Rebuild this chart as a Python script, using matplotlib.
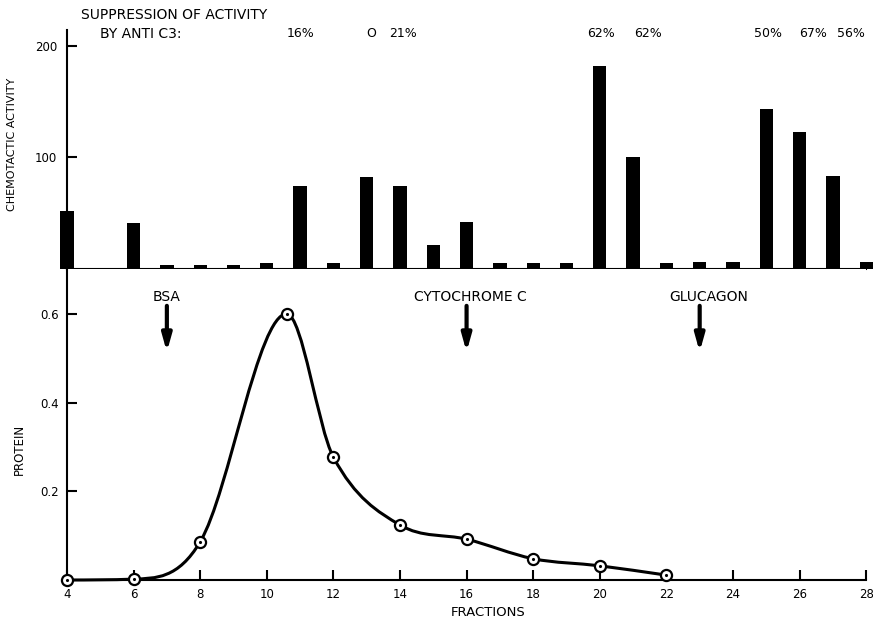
import matplotlib
matplotlib.use("Agg")
import matplotlib.pyplot as plt
import numpy as np
from matplotlib.path import Path
from matplotlib.patches import PathPatch
from matplotlib.transforms import blended_transform_factory
from matplotlib import font_manager

# chemotactic activity per fraction (top panel)
act_frac = [4, 6, 7, 8, 9, 10, 11, 12, 13, 14, 15, 16, 17, 18, 19, 20, 21, 22, 23, 24, 25, 26, 27, 28]
act_val = [52, 41, 4, 4, 4, 5, 74, 5, 82, 74, 22, 42, 5, 5, 5, 182, 100, 5, 6, 6, 143, 123, 83, 6]

# suppression by anti C3 labels
sup_frac = [11, 13, 14, 20, 21, 25, 26, 27]
sup_text = ["16%", "O", "21%", "62%", "62%", "50%", "67%", "56%"]

# protein elution profile (bottom panel)
prot_frac = [4, 6, 8, 10.6, 12, 14, 16, 18, 20, 22]
prot_val = [0.0, 0.002, 0.086, 0.6, 0.277, 0.124, 0.092, 0.048, 0.032, 0.011]

# marker proteins
mark_name = ["BSA", "CYTOCHROME C", "GLUCAGON"]
mark_frac = [7, 16, 23]

plt.rcParams['font.family'] = ['DejaVu Sans']

# narrow face for the tall rotated label, if the system has one
names = {f.name for f in font_manager.fontManager.ttflist}
if "Liberation Sans Narrow" in names:
	lab_font = dict(family="Liberation Sans Narrow", fontsize=11.5)
else:
	lab_font = dict(family="DejaVu Sans", fontsize=8)

fig = plt.figure(figsize=(8.73, 6.2), dpi=100)
ax1 = fig.add_axes([0.0767, 0.566, 0.9155, 0.3855])
ax2 = fig.add_axes([0.0767, 0.0645, 0.9155, 0.5016])

# ---- top panel
ax1.bar(act_frac, act_val, width=0.4, color="black", clip_on=False)
ax1.set_xlim(4, 28)
ax1.set_ylim(0, 214)
ax1.set_yticks([100, 200])
ax1.set_xticks([])
for s in ["top", "right"]:
	ax1.spines[s].set_visible(False)
ax1.spines["left"].set_linewidth(1.5)
ax1.spines["bottom"].set_linewidth(1.5)
ax1.tick_params(axis="y", direction="in", length=7, width=1.5, labelsize=8.5, pad=7)
ax1.set_ylabel("CHEMOTACTIC ACTIVITY", **lab_font)
ax1.yaxis.set_label_coords(-0.062, 0.52)

tr = blended_transform_factory(ax1.transData, ax1.transAxes)
nudge = [0, 0.15, 0.1, 0.05, 0.45, 0.05, 0.4, 0.55]
for f, t, n in zip(sup_frac, sup_text, nudge):
	ax1.text(f + n, 0.985, t, transform=tr, ha="center", va="center", fontsize=9)
ax1.text(0.017, 1.063, "SUPPRESSION OF ACTIVITY", transform=ax1.transAxes,
	ha="left", va="center", fontsize=10)
ax1.text(0.041, 0.985, "BY ANTI C3:", transform=ax1.transAxes,
	ha="left", va="center", fontsize=10)

# ---- bottom panel: smooth cubic through the measured points
x = np.array(prot_frac)
y = np.array(prot_val)
h = np.diff(x)
dl = np.diff(y) / h
d = np.zeros_like(y)
for k in range(1, len(x) - 1):
	if dl[k - 1] * dl[k] > 0:
		d[k] = (y[k + 1] - y[k - 1]) / (x[k + 1] - x[k - 1])
d[0] = dl[0]
d[-1] = dl[-1]
# keep each segment monotone
for k in range(len(x) - 1):
	if dl[k] == 0:
		d[k] = d[k + 1] = 0
		continue
	a = d[k] / dl[k]
	b = d[k + 1] / dl[k]
	r = a * a + b * b
	if r > 9:
		t = 3 / np.sqrt(r)
		d[k] = t * a * dl[k]
		d[k + 1] = t * b * dl[k]

verts = [(x[0], y[0])]
codes = [Path.MOVETO]
for k in range(len(x) - 1):
	verts += [(x[k] + h[k] / 3, y[k] + d[k] * h[k] / 3),
		(x[k + 1] - h[k] / 3, y[k + 1] - d[k + 1] * h[k] / 3),
		(x[k + 1], y[k + 1])]
	codes += [Path.CURVE4] * 3
ax2.add_patch(PathPatch(Path(verts, codes), fill=False, lw=2.2, ec="black", clip_on=False))

ax2.plot(prot_frac, prot_val, "o", ms=8, mfc="white", mec="black", mew=1.6, clip_on=False, zorder=3)
ax2.plot(prot_frac, prot_val, ".", ms=2.5, color="black", clip_on=False, zorder=4)

ax2.set_xlim(4, 28)
ax2.set_ylim(0, 0.701)
ax2.set_xticks(range(4, 29, 2))
ax2.set_yticks([0.2, 0.4, 0.6])
ax2.set_yticklabels(["0.2", "0.4", "0.6"])
for s in ["top", "right"]:
	ax2.spines[s].set_visible(False)
ax2.spines["left"].set_linewidth(1.5)
ax2.spines["bottom"].set_linewidth(1.5)
ax2.tick_params(direction="in", length=7, width=1.5, labelsize=8.5, pad=6)
ax2.set_ylabel("PROTEIN", fontsize=8.5)
ax2.yaxis.set_label_coords(-0.052, 0.42)
ax2.set_xlabel("FRACTIONS", fontsize=9.5, labelpad=3)
ax2.xaxis.set_label_coords(0.527, -0.085)

text_nudge = [0, 0.1, 0.27]
for name, f, n in zip(mark_name, mark_frac, text_nudge):
	ax2.text(f + n, 0.637, name, ha="center", va="center", fontsize=10)
	ax2.annotate("", xy=(f, 0.514), xytext=(f, 0.618),
		arrowprops=dict(arrowstyle="-|>,head_length=1.0,head_width=0.28",
			lw=3, color="black", shrinkA=0, shrinkB=0))

fig.savefig("out.png", dpi=100)
